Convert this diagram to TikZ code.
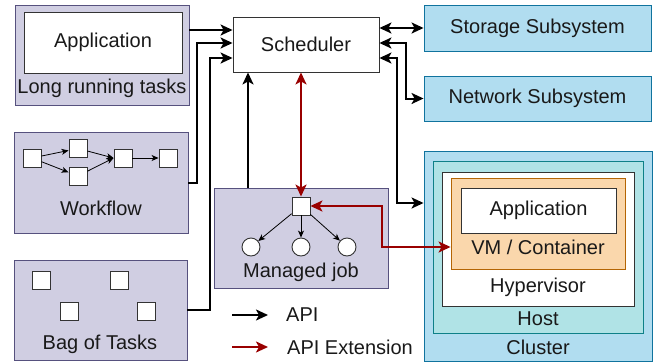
\documentclass[tikz,border=0pt]{standalone}
\usepackage{fontspec}
\setmainfont{Liberation Sans}
\usetikzlibrary{arrows.meta,calc}
\definecolor{lav}{HTML}{D0CEE2}
\definecolor{lavd}{HTML}{56517E}
\definecolor{sky}{HTML}{B1DDF0}
\definecolor{skyd}{HTML}{10739E}
\definecolor{teal}{HTML}{B0E3E6}
\definecolor{teald}{HTML}{0E8088}
\definecolor{peach}{HTML}{FAD7AC}
\definecolor{peachd}{HTML}{B46504}
\definecolor{ext}{HTML}{990000}
\begin{document}
\begin{tikzpicture}[x=1pt,y=-1pt,
  every node/.style={font=\fontsize{20}{23}\selectfont, text=black!90, inner sep=0pt},
  box/.style={draw=#1, line width=0.9pt, rectangle},
  purplebox/.style={box=lavd, fill=lav},
  bluebox/.style={box=skyd, fill=sky},
  whitebox/.style={draw=black!80, line width=0.9pt, fill=white, rectangle},
  tiny/.style={whitebox, minimum size=18pt},
  dot/.style={circle, draw=black!80, line width=0.9pt, fill=white, minimum size=18pt},
  api/.style={line width=2pt, black, -{Stealth[length=12pt,width=11pt,inset=3pt]}},
  apib/.style={line width=2pt, black, {Stealth[length=12pt,width=11pt,inset=3pt]}-{Stealth[length=12pt,width=11pt,inset=3pt]}},
  extb/.style={line width=2pt, ext, {Stealth[length=12pt,width=11pt,inset=3pt]}-{Stealth[length=12pt,width=11pt,inset=3pt]}},
  extone/.style={line width=2pt, ext, -{Stealth[length=12pt,width=11pt,inset=3pt]}},
  thin/.style={line width=0.8pt, black, -{Stealth[length=7pt,width=6pt,inset=2pt]}}
]
\useasboundingbox (0,0) rectangle (654,362);

% Long running tasks
\node[purplebox, minimum width=174pt, minimum height=100pt] (lrt) at (102,55) {};
\node[whitebox, minimum width=158pt, minimum height=61pt] (lrtapp) at (103,42.5) {Application};
\node (lrtlab) at (102,88) {Long running tasks};

% Workflow
\node[purplebox, minimum width=174pt, minimum height=101pt] (wf) at (101,182.5) {};
\node[tiny] (w1) at (32,158) {};
\node[tiny] (w2) at (78,148.5) {};
\node[tiny] (w3) at (78,176) {};
\node[tiny] (w4) at (123,158) {};
\node[tiny] (w5) at (168,158) {};
\draw[thin] (w1) -- (w2);
\draw[thin] (w1) -- (w3);
\draw[thin] (w2) -- (w4.west);
\draw[thin] (w3) -- (w4.west);
\draw[thin] (w4) -- (w5);
\node (wflab) at (101,208) {Workflow};

% Bag of tasks
\node[purplebox, minimum width=173pt, minimum height=100pt] (bot) at (100.5,310) {};
\node[tiny] (t1) at (41,280) {};
\node[tiny] (t2) at (119,280) {};
\node[tiny] (t3) at (69,311) {};
\node[tiny] (t4) at (146,311) {};
\node (botlab) at (100,344) {Bag of Tasks};

% Scheduler
\node[whitebox, minimum width=146pt, minimum height=55pt] (sched) at (306,44.5) {Scheduler};

% Managed job
\node[purplebox, minimum width=174pt, minimum height=100pt] (mj) at (301,238) {};
\node[whitebox, minimum size=18pt] (mjsq) at (301,206) {};
\node[dot] (c1) at (251,247) {};
\node[dot] (c2) at (301,247) {};
\node[dot] (c3) at (347,247) {};
\draw[thin] (mjsq) -- (c1);
\draw[thin] (mjsq) -- (c2);
\draw[thin] (mjsq) -- (c3);
\node (mjlab) at (301,272) {Managed job};

% Subsystems
\node[bluebox, minimum width=227pt, minimum height=46pt] (stor) at (537.5,28) {Storage Subsystem};
\node[bluebox, minimum width=227pt, minimum height=45pt] (net) at (537.5,98.5) {Network Subsystem};

% Cluster stack
\node[bluebox, minimum width=228pt, minimum height=210pt] (cl) at (538,256) {};
\node[box=teald, fill=teal, minimum width=210pt, minimum height=172pt] (host) at (538,247) {};
\node[whitebox, minimum width=192pt, minimum height=134pt] (hyp) at (538,239) {};
\node[box=peachd, fill=peach, minimum width=174pt, minimum height=91pt] (vm) at (538,223.5) {};
\node[whitebox, minimum width=155pt, minimum height=45pt] (clapp) at (538.5,210.5) {Application};
\node (vmlab) at (538,247) {VM / Container};
\node (hyplab) at (538,287) {Hypervisor};
\node (hostlab) at (538,319) {Host};
\node (cllab) at (538,347) {Cluster};

% Helper levels
\coordinate (r1) at (0,30);
\coordinate (r2) at (0,43);
\coordinate (r3) at (0,58);
\coordinate (xmj) at (248,0);

% Applications to scheduler
\draw[api] (lrt.east |- r1) -- (sched.west |- r1);
\draw[api] (wf.east) -- ++(9,0) |- (sched.west |- r2);
\draw[api] (bot.east) -- ++(23,0) |- (sched.west |- r3);
\draw[api] (mj.north -| xmj) -- (sched.south -| xmj);

% Scheduler to subsystems and cluster
\draw[apib] (sched.east |- stor) -- (stor.west);
\draw[apib] (sched.east |- r2) -- ++(27,0) |- (net.west);
\draw[apib] (sched.east |- r3) -- ++(18,0) |- (cl.west |- 0,203);

% API extension links
\draw[extb] (mjsq.north) -- (mjsq |- sched.south);
\draw[extb] (mjsq.east) -- ++(72,0) |- (vm.west |- vmlab);

% Legend
\coordinate (la1) at (232,315);
\coordinate (la2) at (268,315);
\coordinate (lb1) at (232,347);
\coordinate (lb2) at (268,347);
\draw[api] (la1) -- (la2);
\draw[extone] (lb1) -- (lb2);
\node[anchor=west] (lapi) at (286,315) {API};
\node[anchor=west] (lext) at (287,347) {API Extension};
\end{tikzpicture}
\end{document}
